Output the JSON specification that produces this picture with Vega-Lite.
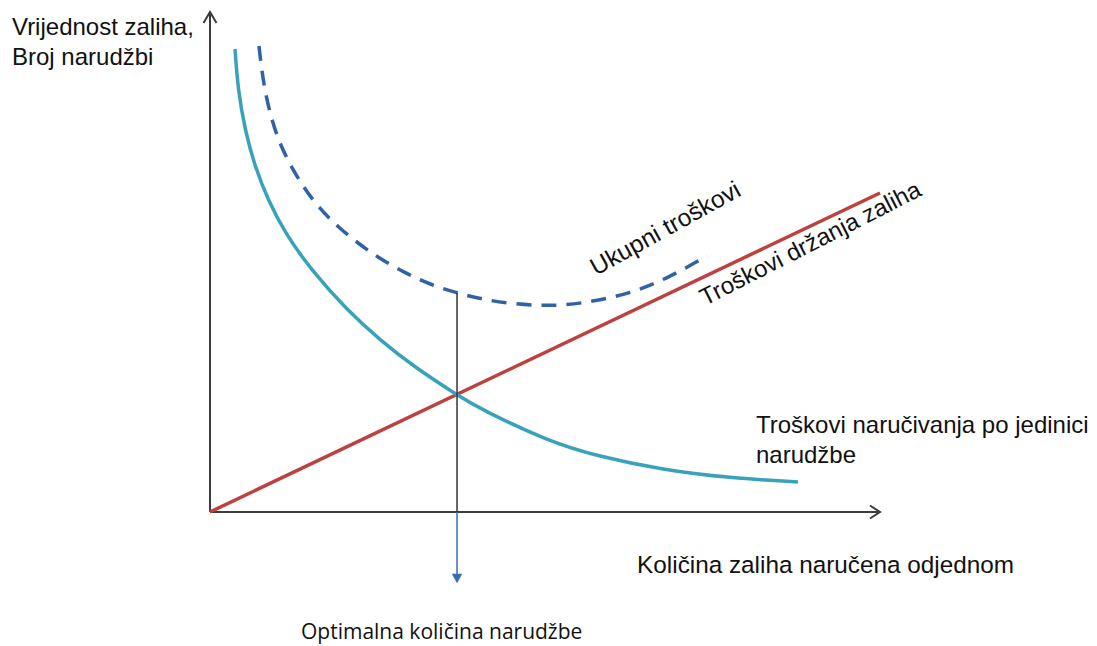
{
  "$schema": "https://vega.github.io/schema/vega-lite/v6.json",
  "width": 1097,
  "height": 646,
  "autosize": {"type": "fit", "contains": "padding"},
  "padding": 0,
  "background": "white",
  "config": {"view": {"stroke": null}},
  "datasets": {
    "frame": [
      {"id": "yaxis", "ord": 1, "x": 0, "y": 0},
      {"id": "yaxis", "ord": 2, "x": 0, "y": 100},
      {"id": "yhead", "ord": 1, "x": -0.97, "y": 97.8},
      {"id": "yhead", "ord": 2, "x": 0, "y": 100},
      {"id": "yhead", "ord": 3, "x": 0.97, "y": 97.8},
      {"id": "xaxis", "ord": 1, "x": 0, "y": 0},
      {"id": "xaxis", "ord": 2, "x": 100, "y": 0},
      {"id": "xhead", "ord": 1, "x": 98.5, "y": 1.3},
      {"id": "xhead", "ord": 2, "x": 100, "y": 0},
      {"id": "xhead", "ord": 3, "x": 98.5, "y": -1.3}
    ],
    "holding": [
      {"x": 0, "y": 0},
      {"x": 100, "y": 63.8}
    ],
    "ordering": [
      {"x": 3.73, "y": 92.6},
      {"x": 4.18, "y": 84.4},
      {"x": 5.22, "y": 76.4},
      {"x": 6.72, "y": 69.0},
      {"x": 8.66, "y": 62.4},
      {"x": 11.19, "y": 55.8},
      {"x": 15.22, "y": 48.2},
      {"x": 20.45, "y": 40.4},
      {"x": 25.37, "y": 34.4},
      {"x": 30.30, "y": 29.2},
      {"x": 36.87, "y": 23.4},
      {"x": 40.30, "y": 20.6},
      {"x": 50.75, "y": 14.0},
      {"x": 57.76, "y": 11.2},
      {"x": 67.61, "y": 8.4},
      {"x": 77.61, "y": 6.8},
      {"x": 87.76, "y": 6.0}
    ],
    "total": [
      {"x": 7.31, "y": 93.2},
      {"x": 7.76, "y": 87.8},
      {"x": 8.60, "y": 81.4},
      {"x": 10.0, "y": 75.0},
      {"x": 11.64, "y": 70.2},
      {"x": 13.73, "y": 65.4},
      {"x": 16.12, "y": 61.0},
      {"x": 19.10, "y": 57.0},
      {"x": 22.24, "y": 53.6},
      {"x": 25.22, "y": 50.8},
      {"x": 29.10, "y": 47.8},
      {"x": 32.84, "y": 45.5},
      {"x": 36.87, "y": 43.8},
      {"x": 40.75, "y": 42.5},
      {"x": 45.22, "y": 41.6},
      {"x": 50.30, "y": 41.2},
      {"x": 55.22, "y": 41.6},
      {"x": 62.69, "y": 43.6},
      {"x": 68.66, "y": 47.0},
      {"x": 74.18, "y": 51.2}
    ],
    "optimum": [
      {"x": 36.87, "y": 43.8},
      {"x": 36.87, "y": 0}
    ],
    "pointer": [
      {"x": 36.87, "y": 0},
      {"x": 36.87, "y": -12.6}
    ],
    "pointerHead": [
      {"x": 36.87, "y": -13.3}
    ],
    "labels": [
      {"label": "Vrijednost zaliha,\nBroj narudžbi", "x": -29.55, "y": 95.4},
      {"label": "Troškovi naručivanja po jedinici\nnarudžbe", "x": 81.49, "y": 15.8}
    ],
    "axisLabel": [
      {"label": "Količina zaliha naručena odjednom", "x": 63.75, "y": -12.2}
    ],
    "totalLabel": [
      {"label": "Ukupni troškovi", "x": 57.6, "y": 47.2}
    ],
    "holdingLabel": [
      {"label": "Troškovi držanja zaliha", "x": 73.88, "y": 41.2}
    ],
    "optLabel": [
      {"label": "Optimalna količina narudžbe", "x": 13.58, "y": -25.4}
    ]
  },
  "encoding": {
    "x": {"field": "x", "type": "quantitative", "axis": null, "scale": {"domain": [-31.343, 132.388], "nice": false, "zero": false}},
    "y": {"field": "y", "type": "quantitative", "axis": null, "scale": {"domain": [-26.8, 102.4], "nice": false, "zero": false}}
  },
  "layer": [
    {
      "data": {"name": "frame"},
      "mark": {"type": "line", "color": "#3c3c3c", "strokeWidth": 2},
      "encoding": {"detail": {"field": "id"}, "order": {"field": "ord", "type": "quantitative"}}
    },
    {
      "data": {"name": "holding"},
      "mark": {"type": "line", "color": "#BC413F", "strokeWidth": 3.5},
      "encoding": {}
    },
    {
      "data": {"name": "ordering"},
      "mark": {"type": "line", "color": "#38A2BC", "strokeWidth": 3.5, "interpolate": "basis"},
      "encoding": {}
    },
    {
      "data": {"name": "total"},
      "mark": {"type": "line", "color": "#2F63A6", "strokeWidth": 3.5, "interpolate": "basis", "strokeDash": [15, 10]},
      "encoding": {}
    },
    {
      "data": {"name": "optimum"},
      "mark": {"type": "line", "color": "#333333", "strokeWidth": 1.5},
      "encoding": {}
    },
    {
      "data": {"name": "pointer"},
      "mark": {"type": "line", "color": "#3A6BB0", "strokeWidth": 1.5},
      "encoding": {}
    },
    {
      "data": {"name": "pointerHead"},
      "mark": {"type": "point", "shape": "M-1,-0.9L1,-0.9L0,0.9Z", "size": 110, "filled": true, "color": "#3A6BB0", "opacity": 1},
      "encoding": {}
    },
    {
      "data": {"name": "labels"},
      "mark": {"type": "text", "align": "left", "baseline": "alphabetic", "font": "Liberation Sans", "fontSize": 24, "lineHeight": 30, "lineBreak": "\n", "color": "#111111"},
      "encoding": {"text": {"field": "label"}}
    },
    {
      "data": {"name": "axisLabel"},
      "mark": {"type": "text", "align": "left", "baseline": "alphabetic", "font": "Liberation Sans", "fontSize": 24.3, "color": "#111111"},
      "encoding": {"text": {"field": "label"}}
    },
    {
      "data": {"name": "totalLabel"},
      "mark": {"type": "text", "align": "left", "baseline": "alphabetic", "font": "Liberation Sans", "fontSize": 24.5, "angle": -29, "color": "#111111"},
      "encoding": {"text": {"field": "label"}}
    },
    {
      "data": {"name": "holdingLabel"},
      "mark": {"type": "text", "align": "left", "baseline": "alphabetic", "font": "Liberation Sans", "fontSize": 24, "angle": -27, "color": "#111111"},
      "encoding": {"text": {"field": "label"}}
    },
    {
      "data": {"name": "optLabel"},
      "mark": {"type": "text", "align": "left", "baseline": "alphabetic", "font": "Open Sans", "fontSize": 21, "color": "#111111"},
      "encoding": {"text": {"field": "label"}}
    }
  ]
}
